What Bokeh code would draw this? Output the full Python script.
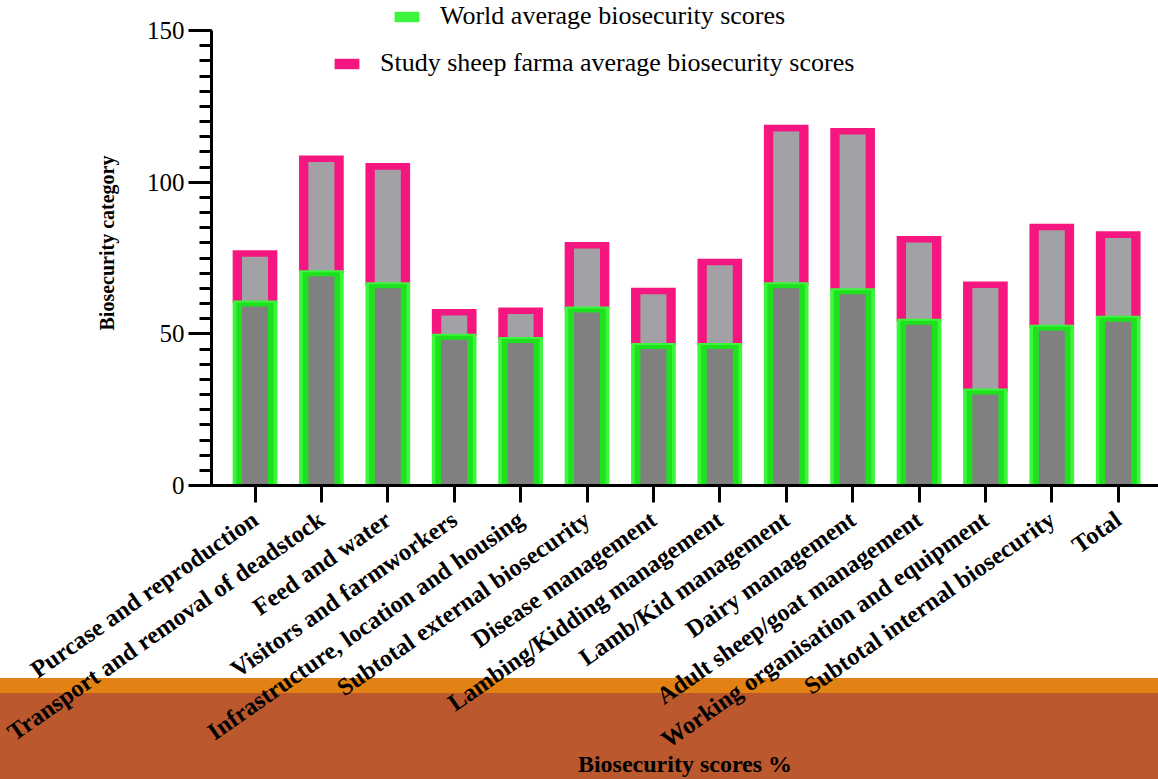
import math

from bokeh.plotting import figure
from bokeh.models import ColumnDataSource, FixedTicker, Legend, LegendItem, Range1d
from bokeh.embed import file_html
from bokeh.resources import INLINE

# ---- data -----------------------------------------------------------------
categories = [
    "Purcase and reproduction",
    "Transport and removal of deadstock",
    "Feed and water",
    "Visitors and farmworkers",
    "Infrastructure, location and housing",
    "Subtotal external biosecurity",
    "Disease management",
    "Lambing/Kidding management",
    "Lamb/Kid management",
    "Dairy management",
    "Adult sheep/goat management",
    "Working organisation and equipment",
    "Subtotal internal biosecurity",
    "Total",
]
world_scores = [60, 70, 66, 49, 48, 58, 46, 46, 66, 64, 54, 31, 52, 55]
study_scores = [16.5, 37.7, 39.2, 8.1, 9.6, 21.2, 18.1, 27.7, 51.8, 52.8, 27.2, 35.2, 33.2, 27.7]
y_major_ticks = [0, 50, 100, 150]
y_minor_step = 5
y_axis_max = 150

# ---- geometry / style -----------------------------------------------------
W, H = 1158, 779
LEFT, BOTTOM = 211, 294
AXIS_TOP_PX = 30                   # free space above the top of the value axis
frame_h = H - BOTTOM
frame_w = W - LEFT
ppu_y = (frame_h - AXIS_TOP_PX) / y_axis_max     # pixels per score unit
y_end = y_axis_max + AXIS_TOP_PX / ppu_y
step_px = 66.4                     # pixels between category centres
x_start = 1 - 43.5 / step_px
x_end = x_start + frame_w / step_px

outer_w = 44.7 / step_px
dark_w = (44.7 - 7.4) / step_px
inner_w = 26.0 / step_px

LIGHT_GREEN = "#3df53d"
DARK_GREEN = "#1ee11e"
PINK = "#f5177f"
DARK_GREY = "#808080"
LIGHT_GREY = "#a2a1a6"
SERIF = "Liberation Serif"

x = list(range(1, len(categories) + 1))
totals = [w + s for w, s in zip(world_scores, study_scores)]


def off(px):
    return px / ppu_y


src = ColumnDataSource(dict(
    x=x,
    world=world_scores,
    total=totals,
    green_outer=[w + off(3) for w in world_scores],
    green_dark=[w + off(1) for w in world_scores],
    green_inner=[w - off(3) for w in world_scores],
    pink_outer=[t + off(3.3) for t in totals],
    pink_inner=[t - off(3.3) for t in totals],
))

p = figure(
    width=W, height=H,
    x_range=Range1d(x_start, x_end),
    y_range=Range1d(0, y_end),
    output_backend="svg",
    toolbar_location=None,
    min_border_left=LEFT, min_border_right=0,
    min_border_top=0, min_border_bottom=BOTTOM,
    background_fill_color="white",
    border_fill_color=None,
    outline_line_color=None,
    styles={"background": "linear-gradient(to bottom, #ffffff 0px, #ffffff 678px, "
                          "#e38214 678px, #e38214 693px, #bb582d 693px, #bb582d 779px)"},
)
p.grid.visible = False

# study segment stacked on the world segment
r_pink = p.vbar(x="x", bottom="world", top="pink_outer", width=outer_w, source=src,
                fill_color=PINK, line_color=None)
p.vbar(x="x", bottom="world", top="pink_inner", width=inner_w, source=src,
       fill_color=LIGHT_GREY, line_color=None)
# world segment
r_green = p.vbar(x="x", bottom=0, top="green_outer", width=outer_w, source=src,
                 fill_color=LIGHT_GREEN, line_color=None)
p.vbar(x="x", bottom=0, top="green_dark", width=dark_w, source=src,
       fill_color=DARK_GREEN, line_color=None)
p.vbar(x="x", bottom=0, top="green_inner", width=inner_w, source=src,
       fill_color=DARK_GREY, line_color=None)


def make_legend(label, renderer, loc):
    leg = Legend(items=[LegendItem(label=label, renderers=[renderer])],
                 location=loc, orientation="vertical",
                 glyph_width=31, glyph_height=13, label_standoff=18,
                 label_height=28, padding=0, margin=0, spacing=0,
                 border_line_color=None, background_fill_alpha=0,
                 label_text_font=SERIF, label_text_font_size="26px",
                 label_text_color="black")
    p.add_layout(leg)


# locations: pixels from the frame's left / bottom edge to the legend's corner
make_legend("World average biosecurity scores", r_green, (180, frame_h - 31))
make_legend("Study sheep farma average biosecurity scores", r_pink, (120, frame_h - 78))

# ---- y axis ---------------------------------------------------------------
yax = p.yaxis[0]
yax.bounds = (0, y_axis_max)
yax.ticker = FixedTicker(ticks=y_major_ticks,
                         minor_ticks=list(range(0, y_axis_max + 1, y_minor_step)))
yax.axis_line_width = 3
yax.major_tick_line_width = 3
yax.minor_tick_line_width = 3
yax.major_tick_out = 23
yax.major_tick_in = 0
yax.minor_tick_out = 12
yax.minor_tick_in = 0
yax.major_label_standoff = 4
yax.major_label_text_font = SERIF
yax.major_label_text_font_size = "25px"
yax.major_label_text_color = "black"
yax.axis_label = "Biosecurity category"
yax.axis_label_text_font = SERIF
yax.axis_label_text_font_style = "bold"
yax.axis_label_text_font_size = "20px"
yax.axis_label_text_color = "black"
yax.axis_label_standoff = 26

# ---- x axis ---------------------------------------------------------------
xax = p.xaxis[0]
xax.ticker = FixedTicker(ticks=x, minor_ticks=[])
xax.major_label_overrides = {i: c for i, c in zip(x, categories)}
xax.major_label_orientation = math.radians(35)
xax.axis_line_width = 3
xax.major_tick_line_width = 3
xax.major_tick_out = 17
xax.major_tick_in = 0
xax.minor_tick_out = 0
xax.major_label_standoff = 14
xax.major_label_text_font = SERIF
xax.major_label_text_font_style = "bold"
xax.major_label_text_font_size = "24.5px"
xax.major_label_text_color = "black"
xax.axis_label = "Biosecurity scores %"
xax.axis_label_text_font = SERIF
xax.axis_label_text_font_style = "bold"
xax.axis_label_text_font_size = "24px"
xax.axis_label_text_color = "black"
xax.axis_label_standoff = -16

open("out.html", "w").write(file_html(p, INLINE))
